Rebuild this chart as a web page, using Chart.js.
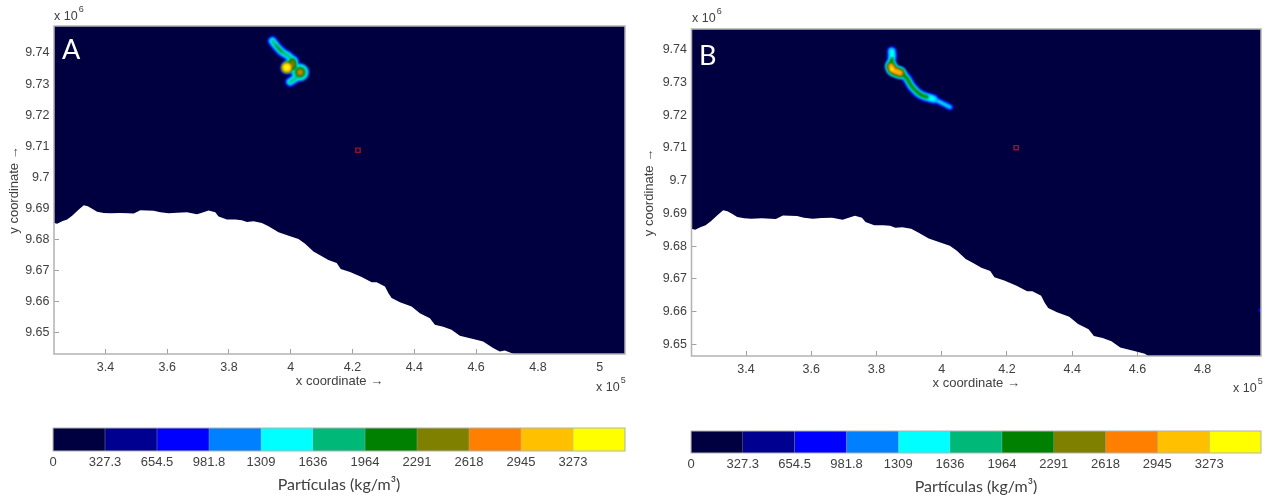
<!DOCTYPE html>
<html>
<head>
<meta charset="utf-8">
<title>Partículas</title>
<script src="https://cdn.jsdelivr.net/npm/chart.js@4"></script>
<style>
html,body{margin:0;padding:0;background:#fff;width:1271px;height:500px;overflow:hidden}
#wrap{position:relative;width:1271px;height:500px;filter:blur(.4px)}
canvas{position:absolute;display:block}
.t{position:absolute;font:12.5px "Liberation Sans",Arial,sans-serif;color:#404040;white-space:nowrap;line-height:14px}
.t sup{font-size:9px;line-height:0;position:relative;top:-3px;vertical-align:super;margin-left:1px}
.p{position:absolute;font:27px Lato,sans-serif;color:#fff;line-height:30px}
</style>
</head>
<body>
<div id="wrap">
<canvas id="mapA" style="left:0;top:0;width:636px;height:400px" width="636" height="400"></canvas>
<canvas id="mapB" style="left:636px;top:0;width:635px;height:400px" width="635" height="400"></canvas>
<canvas id="barA" style="left:0;top:420px;width:636px;height:80px" width="636" height="80"></canvas>
<canvas id="barB" style="left:636px;top:420px;width:635px;height:80px" width="635" height="80"></canvas>
<div class="p" style="left:62px;top:34px">A</div>
<div class="p" style="left:699px;top:40px">B</div>
<div class="t" style="left:54px;top:9px">x 10<sup>6</sup></div>
<div class="t" style="left:692px;top:11px">x 10<sup>6</sup></div>
<div class="t" style="left:596px;top:380px">x 10<sup>5</sup></div>
<div class="t" style="left:1233px;top:381px">x 10<sup>5</sup></div>
</div>
<script>
// ---------- data (x in 1e5, y in 1e6 map units) ----------
const xTicksA = [3.4,3.6,3.8,4,4.2,4.4,4.6,4.8,5];
const xTicksB = [3.4,3.6,3.8,4,4.2,4.4,4.6,4.8];
const yTicks  = [9.65,9.66,9.67,9.68,9.69,9.7,9.71,9.72,9.73,9.74];
const rangeA = {xMin:3.2335,xMax:5.082,yMin:9.6431,yMax:9.7487};
const rangeB = {xMin:3.2328,xMax:4.979,yMin:9.6464,yMax:9.7464};

const coastline = [[3.2,9.6850],[3.233,9.6853],[3.2437,9.6850],[3.2599,9.6858],[3.2761,9.6864],[3.2922,9.6876],[3.3138,9.6896],[3.3299,9.6910],[3.3429,9.6907],[3.3569,9.6899],[3.3730,9.6889],[3.3946,9.6885],[3.4161,9.6884],[3.4484,9.6885],[3.4754,9.6884],[3.4915,9.6883],[3.5131,9.6894],[3.5346,9.6893],[3.5562,9.6892],[3.5777,9.6887],[3.6047,9.6884],[3.6316,9.6886],[3.6639,9.6887],[3.6962,9.6881],[3.7124,9.6886],[3.7339,9.6893],[3.7555,9.6887],[3.7663,9.6874],[3.7932,9.6864],[3.8202,9.6864],[3.8417,9.6862],[3.8579,9.6856],[3.8794,9.6858],[3.9063,9.6853],[3.9279,9.6842],[3.9602,9.6823],[3.9979,9.6810],[4.0249,9.6801],[4.0464,9.6786],[4.0734,9.6761],[4.0949,9.6749],[4.1217,9.6734],[4.1487,9.6724],[4.1616,9.6705],[4.1918,9.6695],[4.2295,9.6679],[4.2618,9.6662],[4.2780,9.6662],[4.3049,9.6648],[4.3157,9.6627],[4.3264,9.6611],[4.3534,9.6598],[4.3911,9.6584],[4.4180,9.6562],[4.4503,9.6546],[4.4665,9.6525],[4.4934,9.6519],[4.5204,9.6509],[4.5473,9.6490],[4.5904,9.6479],[4.6227,9.6471],[4.6550,9.6450],[4.6766,9.6439],[4.6928,9.6442],[4.7251,9.6430],[4.74,9.640],[5.3,9.640]];

const stationA = [[4.2176,9.7087]];
const stationB = [[4.2282,9.7101]];
const edgeSpotB = [[4.977,9.6604]];

const plumeATail = [[3.9407,9.7439],[3.9517,9.7424],[3.9711,9.7404],[3.9956,9.7388],[4.0066,9.7372],[4.0086,9.7356],[4.0302,9.7338],[4.0140,9.7318],[3.9979,9.7307]];
const plumeABranch = [[4.0066,9.7372],[3.9872,9.7353],[4.0086,9.7356]];
const plumeAMid = [[3.9517,9.7424],[3.9711,9.7404]];
const plumeAUpperCore = [[4.0056,9.7372],[4.0076,9.7360]];
const plumeALowerCore = [[4.0302,9.7338]];
const plumeAHot = [[3.9872,9.7353]];

const plumeBPath = [[3.8469,9.7400],[3.8478,9.7379],[3.8438,9.7354],[3.8500,9.7339],[3.8724,9.7332],[3.8929,9.7313],[3.9083,9.7288],[3.9337,9.7264],[3.9745,9.7250],[4.0257,9.7225]];
const plumeBBody = [[3.8469,9.7395],[3.8478,9.7379],[3.8438,9.7354],[3.8500,9.7339],[3.8724,9.7332],[3.8929,9.7313],[3.9083,9.7288],[3.9337,9.7264],[3.9745,9.7250]];
const plumeBGreen = [[3.8478,9.7372],[3.8438,9.7354],[3.8500,9.7339],[3.8724,9.7332],[3.8929,9.7313],[3.9083,9.7288],[3.9337,9.7264],[3.9550,9.7256]];
const plumeBCore = [[3.8450,9.7350],[3.8500,9.7339],[3.8724,9.7330]];
const plumeBHot = [[3.8470,9.7341]];

const colorbarEdges = [0,327.3,654.5,981.8,1309,1636,1964,2291,2618,2945,3273,3600];
const colorbarTicks = [0,327.3,654.5,981.8,1309,1636,1964,2291,2618,2945,3273];
const colorbarColors = ['#000040','#000090','#0000ff','#0080ff','#00ffff','#00b878','#008000','#808000','#ff8000','#ffc000','#ffff00'];

// ---------- helpers ----------
const NAVY = colorbarColors[0];
const TXT = '#404040';
const FONT = '"Liberation Sans",Arial,sans-serif';
const pts = a => a.map(p => ({x:p[0],y:p[1]}));
const band = (path,color,width,blur) => ({data:pts(path),borderColor:color,borderWidth:width,pointRadius:0,tension:.4,fill:false,borderCapStyle:'round',borderJoinStyle:'round',blur:blur===undefined?1:blur});
const dot = (p,color,r,blur) => ({data:pts(p),showLine:false,pointRadius:r,pointBorderWidth:0,pointBackgroundColor:color,backgroundColor:color,blur:blur===undefined?1:blur});

const softPlugin = {id:'soft',
  beforeDatasetDraw(c,a){const d=c.data.datasets[a.index]; if(d.blur){c.ctx.save();c.ctx.filter='blur('+d.blur+'px)';}},
  afterDatasetDraw(c,a){const d=c.data.datasets[a.index]; if(d.blur){c.ctx.restore();}}
};
const framePlugin = {id:'frame',
  afterDraw(c){const o=c.chartArea,x=c.ctx;x.save();x.strokeStyle='#b2b2b2';x.lineWidth=c.options.frameWidth||1.5;x.strokeRect(o.left,o.top,o.right-o.left,o.bottom-o.top);x.restore();}
};

function mapChart(id,range,xTicks,station,layers,o){
  const datasets = [
    {data:pts(station),showLine:false,pointStyle:'rect',pointRadius:3,pointBorderWidth:1.4,pointBorderColor:'#961428',pointBackgroundColor:'rgba(0,0,0,0)'},
    ...layers,
    {data:pts(coastline),borderWidth:0,pointRadius:0,fill:'end',backgroundColor:NAVY,borderColor:NAVY,tension:0}
  ];
  new Chart(document.getElementById(id),{
    type:'line',
    data:{datasets},
    plugins:[softPlugin,framePlugin],
    options:{responsive:false,animation:false,
      layout:{padding:{top:o.top,right:o.right,left:0,bottom:0}},
      plugins:{legend:{display:false},tooltip:{enabled:false}},
      scales:{
        x:{type:'linear',min:range.xMin,max:range.xMax,
          afterBuildTicks(s){s.ticks=xTicks.map(v=>({value:v}));},
          afterFit(s){s.height=o.xh;},
          grid:{drawOnChartArea:false,tickLength:-5,tickColor:'#a0a0a0',tickWidth:1},
          border:{display:false},
          ticks:{callback:v=>String(v),color:TXT,font:{family:FONT,size:12.5},padding:11,maxRotation:0,autoSkip:false},
          title:{display:true,text:'x coordinate →',color:TXT,font:{family:FONT,size:13},padding:{top:0,bottom:o.xtb}}},
        y:{type:'linear',min:range.yMin,max:range.yMax,
          afterBuildTicks(s){s.ticks=yTicks.map(v=>({value:v}));},
          afterFit(s){s.width=o.yw;},
          grid:{drawOnChartArea:false,tickLength:-5,tickColor:'#a0a0a0',tickWidth:1},
          border:{display:false},
          ticks:{callback:v=>String(v),color:TXT,font:{family:FONT,size:12.5},padding:9.5,autoSkip:false},
          title:{display:true,text:'y coordinate →',color:TXT,font:{family:FONT,size:13},padding:{top:o.ytt,bottom:0}}}
      }
    }
  });
}

function barChart(id,o){
  const datasets = colorbarColors.map((c,i)=>({label:String(colorbarEdges[i]),data:[colorbarEdges[i+1]-colorbarEdges[i]],backgroundColor:c,borderColor:'rgba(40,40,0,0.3)',borderWidth:{left:.5,right:.5,top:0,bottom:0},borderSkipped:false,barPercentage:1,categoryPercentage:1}));
  new Chart(document.getElementById(id),{
    type:'bar',
    data:{labels:['Partículas'],datasets},
    plugins:[framePlugin],
    options:{indexAxis:'y',responsive:false,animation:false,frameWidth:1,
      layout:{padding:{top:o.top,right:o.right,left:o.left,bottom:0}},
      plugins:{legend:{display:false},tooltip:{enabled:false}},
      scales:{
        y:{stacked:true,display:false},
        x:{stacked:true,type:'linear',min:0,max:3600,
          afterBuildTicks(s){s.ticks=colorbarTicks.map(v=>({value:v}));},
          afterFit(s){s.height=o.h;},
          grid:{display:false,drawTicks:false},border:{display:false},
          ticks:{callback:v=>String(v),color:TXT,font:{family:FONT,size:13},padding:4,maxRotation:0,autoSkip:false},
          title:{display:true,text:'Partículas (kg/m³)',color:TXT,font:{family:'Lato,sans-serif',size:16},padding:{top:0,bottom:o.tb}}}
      }
    }
  });
}

// ---------- panels (top-most layer listed first) ----------
const c = colorbarColors;
mapChart('mapA',rangeA,xTicksA,stationA,[
  dot(plumeAHot,c[10],3),dot(plumeAHot,c[9],4),dot(plumeAHot,c[8],5),
  dot(plumeALowerCore,c[8],2),dot(plumeALowerCore,c[7],3.5),
  band(plumeAUpperCore,c[7],3.5),
  dot(plumeAHot,c[6],6),dot(plumeALowerCore,c[6],4.5),
  band(plumeABranch,c[6],4),band(plumeAUpperCore,c[6],6),band(plumeAMid,c[6],1.5),
  band(plumeABranch,c[5],6.5),band(plumeATail,c[5],3),
  dot(plumeALowerCore,c[5],6),
  band(plumeABranch,c[4],9),band(plumeATail,c[4],5.5),dot(plumeALowerCore,c[4],7.5),
  band(plumeABranch,c[3],11),band(plumeATail,c[3],7.5),dot(plumeALowerCore,c[3],9),
  band(plumeABranch,c[2],12.5),band(plumeATail,c[2],9),
  band(plumeABranch,c[1],14),band(plumeATail,c[1],11)
],{top:26,right:11,xh:46,yw:54,xtb:11,ytt:7});

mapChart('mapB',rangeB,xTicksB,stationB,[
  dot(plumeBHot,c[10],1.5),
  band(plumeBCore,c[9],3),band(plumeBCore,c[8],5),band(plumeBCore,c[7],6.5),band(plumeBCore,c[6],8),
  band(plumeBGreen,c[6],2.5),band(plumeBCore,c[5],9.5),band(plumeBGreen,c[5],4),
  band(plumeBBody,c[4],5.5),band(plumeBCore,c[4],11),band(plumeBBody,c[3],7.5),band(plumeBPath,c[4],2),
  band(plumeBPath,c[3],4),band(plumeBCore,c[3],12.5),
  band(plumeBBody,c[2],9),band(plumeBPath,c[2],5.5),band(plumeBBody,c[1],11),band(plumeBPath,c[1],7.5),
  dot(edgeSpotB,c[2],2,.5)
],{top:29,right:10,xh:44,yw:55.5,xtb:9,ytt:6});

barChart('barA',{top:8,right:11,left:53,h:49,tb:6});
barChart('barB',{top:11,right:10,left:55,h:47,tb:4});
</script>
</body>
</html>
